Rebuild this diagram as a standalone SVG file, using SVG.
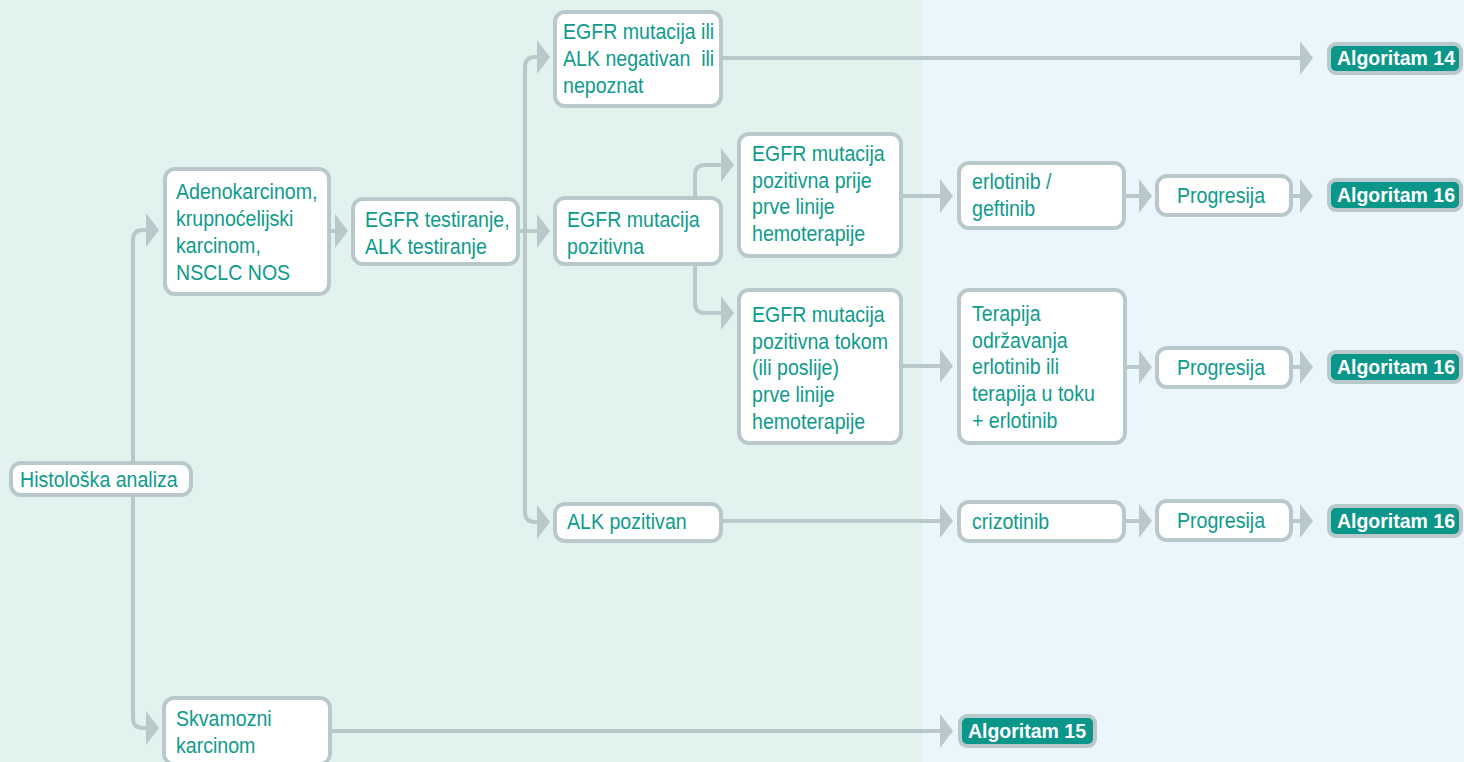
<svg xmlns="http://www.w3.org/2000/svg" width="1464" height="762" viewBox="0 0 1464 762">
<style>
.bx{fill:#ffffff;stroke:#b9c8cb;stroke-width:4}
.al{fill:#0b968a;stroke:#b9c8cb;stroke-width:4}
.t{font-family:"Liberation Sans",Arial,sans-serif;font-size:22px;fill:#0e9b8c}
.ta{font-family:"Liberation Sans",Arial,sans-serif;font-size:19.5px;font-weight:bold;fill:#ffffff;text-anchor:middle}
.c{fill:none;stroke:#b9c8cb;stroke-width:4;marker-end:url(#ah)}
</style>
<defs>
<marker id="ah" markerUnits="userSpaceOnUse" markerWidth="14" markerHeight="34" refX="0" refY="17" orient="auto" viewBox="0 0 14 34">
<path d="M0,0 L13,17 L0,34 Z" fill="#b9c8cb"/>
</marker>
</defs>
<rect x="0" y="0" width="922" height="762" fill="#e2f2ee"/>
<rect x="922" y="0" width="542" height="762" fill="#ebf6fc"/>
<g id="connectors">
<path class="c" d="M133,461 V240 Q133,230 143,230 H146"/>
<path class="c" d="M133,497 V718 Q133,728 143,728 H146"/>
<path class="c" d="M331,231 H335"/>
<path class="c" d="M518,231 H537"/>
<path class="c" d="M525,240 V67 Q525,57 535,57 H537"/>
<path class="c" d="M525,230 V512 Q525,522 535,522 H537"/>
<path class="c" d="M723,58 H1300"/>
<path class="c" d="M695,198 V175 Q695,165 705,165 H721"/>
<path class="c" d="M695,264 V303 Q695,313 705,313 H721"/>
<path class="c" d="M903,196 H940"/>
<path class="c" d="M1126,196 H1139"/>
<path class="c" d="M1293,196 H1300"/>
<path class="c" d="M903,366 H940"/>
<path class="c" d="M1127,367 H1139"/>
<path class="c" d="M1293,367 H1300"/>
<path class="c" d="M722,521 H940"/>
<path class="c" d="M1126,521 H1139"/>
<path class="c" d="M1293,521 H1300"/>
<path class="c" d="M332,731 H940"/>
</g>
<g id="histoloska">
<rect class="bx" x="11" y="463" width="180" height="32" rx="10"/>
<g transform="translate(20,0) scale(0.89,1)"><text class="t" x="0" y="487">Histološka analiza</text></g>
</g>
<g id="adenokarcinom">
<rect class="bx" x="165" y="169" width="164" height="125" rx="10"/>
<g transform="translate(176,0) scale(0.89,1)">
<text class="t" x="0" y="199">Adenokarcinom,</text>
<text class="t" x="0" y="226">krupnoćelijski</text>
<text class="t" x="0" y="253">karcinom,</text>
<text class="t" x="0" y="280">NSCLC NOS</text>
</g>
</g>
<g id="egfr-test">
<rect class="bx" x="353" y="199" width="165" height="65" rx="10"/>
<g transform="translate(365,0) scale(0.89,1)">
<text class="t" x="0" y="227">EGFR testiranje,</text>
<text class="t" x="0" y="254">ALK testiranje</text>
</g>
</g>
<g id="egfr-neg">
<rect class="bx" x="555" y="12" width="166" height="94" rx="10"/>
<g transform="translate(563,0) scale(0.89,1)">
<text class="t" x="0" y="39">EGFR mutacija ili</text>
<text class="t" x="0" y="66" xml:space="preserve">ALK negativan  ili</text>
<text class="t" x="0" y="93">nepoznat</text>
</g>
</g>
<g id="egfr-poz">
<rect class="bx" x="555" y="198" width="166" height="66" rx="10"/>
<g transform="translate(567,0) scale(0.89,1)">
<text class="t" x="0" y="227">EGFR mutacija</text>
<text class="t" x="0" y="254">pozitivna</text>
</g>
</g>
<g id="alk-poz">
<rect class="bx" x="555" y="504" width="166" height="37" rx="10"/>
<g transform="translate(567,0) scale(0.89,1)">
<text class="t" x="0" y="529">ALK pozitivan</text>
</g>
</g>
<g id="egfr-prije">
<rect class="bx" x="739" y="134" width="162" height="122" rx="10"/>
<g transform="translate(752,0) scale(0.89,1)">
<text class="t" x="0" y="161">EGFR mutacija</text>
<text class="t" x="0" y="188">pozitivna prije</text>
<text class="t" x="0" y="214">prve linije</text>
<text class="t" x="0" y="241">hemoterapije</text>
</g>
</g>
<g id="egfr-tokom">
<rect class="bx" x="739" y="290" width="162" height="153" rx="10"/>
<g transform="translate(752,0) scale(0.89,1)">
<text class="t" x="0" y="322">EGFR mutacija</text>
<text class="t" x="0" y="349">pozitivna tokom</text>
<text class="t" x="0" y="375">(ili poslije)</text>
<text class="t" x="0" y="402">prve linije</text>
<text class="t" x="0" y="429">hemoterapije</text>
</g>
</g>
<g id="erlotinib">
<rect class="bx" x="959" y="163" width="165" height="65" rx="10"/>
<g transform="translate(972,0) scale(0.89,1)">
<text class="t" x="0" y="189">erlotinib /</text>
<text class="t" x="0" y="216">geftinib</text>
</g>
</g>
<g id="terapija">
<rect class="bx" x="959" y="290" width="166" height="153" rx="10"/>
<g transform="translate(972,0) scale(0.89,1)">
<text class="t" x="0" y="321">Terapija</text>
<text class="t" x="0" y="348">održavanja</text>
<text class="t" x="0" y="374">erlotinib ili</text>
<text class="t" x="0" y="401">terapija u toku</text>
<text class="t" x="0" y="428">+ erlotinib</text>
</g>
</g>
<g id="crizotinib">
<rect class="bx" x="959" y="502" width="165" height="39" rx="10"/>
<g transform="translate(972,0) scale(0.89,1)">
<text class="t" x="0" y="529">crizotinib</text>
</g>
</g>
<g id="progresija-1">
<rect class="bx" x="1157" y="176" width="134" height="39" rx="10"/>
<g transform="translate(1221,0) scale(0.89,1)"><text class="t" x="0" y="203" text-anchor="middle">Progresija</text></g>
</g>
<g id="progresija-2">
<rect class="bx" x="1157" y="348" width="134" height="39" rx="10"/>
<g transform="translate(1221,0) scale(0.89,1)"><text class="t" x="0" y="375" text-anchor="middle">Progresija</text></g>
</g>
<g id="progresija-3">
<rect class="bx" x="1157" y="501" width="134" height="39" rx="10"/>
<g transform="translate(1221,0) scale(0.89,1)"><text class="t" x="0" y="528" text-anchor="middle">Progresija</text></g>
</g>
<g id="alg14">
<rect class="al" x="1329" y="44" width="132" height="29" rx="7"/>
<text class="ta" x="1396" y="65">Algoritam 14</text>
</g>
<g id="alg16-1">
<rect class="al" x="1329" y="180" width="132" height="30" rx="7"/>
<text class="ta" x="1396" y="202">Algoritam 16</text>
</g>
<g id="alg16-2">
<rect class="al" x="1329" y="352" width="132" height="30" rx="7"/>
<text class="ta" x="1396" y="374">Algoritam 16</text>
</g>
<g id="alg16-3">
<rect class="al" x="1329" y="506" width="132" height="30" rx="7"/>
<text class="ta" x="1396" y="528">Algoritam 16</text>
</g>
<g id="alg15">
<rect class="al" x="960" y="716" width="135" height="30" rx="7"/>
<text class="ta" x="1027" y="738">Algoritam 15</text>
</g>
<g id="skvamozni">
<rect class="bx" x="164" y="698" width="166" height="66" rx="10"/>
<g transform="translate(176,0) scale(0.89,1)">
<text class="t" x="0" y="726">Skvamozni</text>
<text class="t" x="0" y="753">karcinom</text>
</g>
</g>
</svg>
